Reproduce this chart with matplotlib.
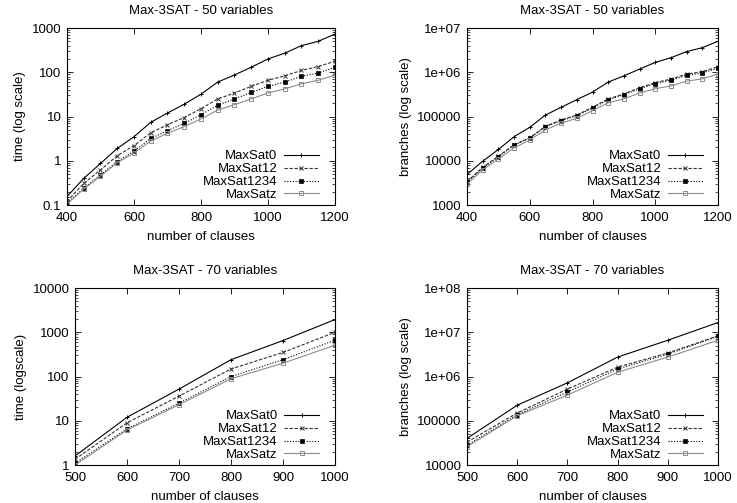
import matplotlib
matplotlib.use("Agg")
import matplotlib.pyplot as plt
from matplotlib.ticker import FixedLocator, LogLocator, NullFormatter

plt.rcParams['font.family'] = ['Liberation Sans', 'DejaVu Sans']
plt.rcParams['font.size'] = 9.5

# 50 variables
clauses50 = [400, 450, 500, 550, 600, 650, 700, 750, 800, 850, 900, 950, 1000, 1050, 1100, 1150, 1200]
time50_maxsat0 = [0.155, 0.4, 0.87, 1.9, 3.5, 7.4, 12, 19, 32, 60, 87, 130, 200, 270, 400, 500, 730]
time50_maxsat12 = [0.12, 0.31, 0.62, 1.3, 2.2, 4.3, 6.5, 9.5, 15, 25, 34, 48, 66, 83, 110, 135, 178]
time50_maxsat1234 = [0.11, 0.24, 0.48, 0.96, 1.65, 3.2, 4.8, 7, 11, 18, 25, 35, 48, 60, 81, 96, 130]
time50_maxsatz = [0.105, 0.23, 0.45, 0.9, 1.5, 2.8, 4.2, 5.9, 8.8, 14, 18.5, 25, 34, 42, 55, 66, 86]

br50_maxsat0 = [4900, 9800, 18000, 35000, 57000, 108000, 162000, 240000, 357000, 600000, 830000,
                1.18e6, 1.67e6, 2.13e6, 2.93e6, 3.6e6, 5e6]
br50_maxsat12 = [3400, 7100, 12700, 23000, 33000, 60000, 83000, 108000, 162000, 250000, 325000,
                 445000, 585000, 700000, 910000, 1.03e6, 1.33e6]
br50_maxsat1234 = [3250, 6900, 12300, 22500, 33000, 59000, 81000, 105000, 155000, 240000, 310000,
                   425000, 555000, 660000, 855000, 970000, 1.23e6]
br50_maxsatz = [2950, 6300, 11000, 19600, 29500, 50000, 71000, 91000, 136000, 204000, 250000,
                340000, 425000, 490000, 630000, 710000, 910000]

# 70 variables
clauses70 = [500, 600, 700, 800, 900, 1000]
time70_maxsat0 = [1.6, 12, 52, 240, 650, 1940]
time70_maxsat12 = [1.35, 9, 36, 148, 350, 1000]
time70_maxsat1234 = [1.1, 6.6, 25, 100, 240, 660]
time70_maxsatz = [1.0, 6.2, 23, 89, 200, 510]

br70_maxsat0 = [40000, 225000, 720000, 2.75e6, 6.6e6, 1.66e7]
br70_maxsat12 = [33000, 150000, 520000, 1.63e6, 3.4e6, 8.3e6]
br70_maxsat1234 = [28000, 137000, 445000, 1.48e6, 3.2e6, 8.1e6]
br70_maxsatz = [26000, 130000, 380000, 1.25e6, 2.75e6, 6.6e6]

names = ['MaxSat0', 'MaxSat12', 'MaxSat1234', 'MaxSatz']
styles = [
    dict(color='black', ls='-', marker='+', ms=3.5, mew=0.7),
    dict(color='#333333', ls=(0, (3, 1.5)), marker='x', ms=2.8, mew=0.7),
    dict(color='black', ls=(0, (1, 1.5)), marker='s', ms=2.3, mew=0.5),
    dict(color='#8c8c8c', ls='-', marker='s', ms=3.2, mfc='none', mew=0.7),
]

fig = plt.figure(figsize=(7.37, 5.03), dpi=100)
rects = [
    [0.0909, 0.5924, 0.4545 - 0.0909, 0.9443 - 0.5924],
    [0.6337, 0.5924, 0.9742 - 0.6337, 0.9443 - 0.5924],
    [0.1018, 0.0755, 0.4545 - 0.1018, 0.4274 - 0.0755],
    [0.6337, 0.0755, 0.9742 - 0.6337, 0.4274 - 0.0755],
]

panels = [
    (clauses50, [time50_maxsat0, time50_maxsat12, time50_maxsat1234, time50_maxsatz],
     'time (log scale)', (0.1, 1000), [0.1, 1, 10, 100, 1000], ['0.1', '1', '10', '100', '1000'],
     (400, 1200), [400, 600, 800, 1000, 1200], 'Max-3SAT - 50 variables'),
    (clauses50, [br50_maxsat0, br50_maxsat12, br50_maxsat1234, br50_maxsatz],
     'branches (log scale)', (1000, 1e7), [1e3, 1e4, 1e5, 1e6, 1e7],
     ['1000', '10000', '100000', '1e+06', '1e+07'],
     (400, 1200), [400, 600, 800, 1000, 1200], 'Max-3SAT - 50 variables'),
    (clauses70, [time70_maxsat0, time70_maxsat12, time70_maxsat1234, time70_maxsatz],
     'time (logscale)', (1, 10000), [1, 10, 100, 1000, 10000], ['1', '10', '100', '1000', '10000'],
     (500, 1000), [500, 600, 700, 800, 900, 1000], 'Max-3SAT - 70 variables'),
    (clauses70, [br70_maxsat0, br70_maxsat12, br70_maxsat1234, br70_maxsatz],
     'branches (log scale)', (1e4, 1e8), [1e4, 1e5, 1e6, 1e7, 1e8],
     ['10000', '100000', '1e+06', '1e+07', '1e+08'],
     (500, 1000), [500, 600, 700, 800, 900, 1000], 'Max-3SAT - 70 variables'),
]

for rect, (xs, series, ylabel, ylim, yt, ytl, xlim, xt, title) in zip(rects, panels):
    ax = fig.add_axes(rect)
    for ys, name, st in zip(series, names, styles):
        ax.plot(xs, ys, label=name, lw=0.8, **st)
    ax.set_yscale('log')
    ax.set_ylim(*ylim)
    ax.set_xlim(*xlim)
    ax.yaxis.set_major_locator(FixedLocator(yt))
    ax.set_yticklabels(ytl)
    ax.yaxis.set_minor_locator(LogLocator(base=10, subs=range(2, 10)))
    ax.yaxis.set_minor_formatter(NullFormatter())
    ax.set_xticks(xt)
    ax.set_xticklabels([str(v) for v in xt])
    ax.tick_params(which='both', direction='in', top=True, right=True, labelsize=9.5)
    ax.tick_params(which='major', length=4, width=0.6)
    ax.tick_params(which='minor', length=2, width=0.5)
    ax.tick_params(axis='x', pad=5)
    ax.tick_params(axis='y', pad=4)
    for sp in ax.spines.values():
        sp.set_linewidth(0.8)
    ax.set_xlabel('number of clauses', fontsize=9.5, labelpad=5)
    ax.set_ylabel(ylabel, fontsize=9.5)
    ax.set_title(title, fontsize=9.5, pad=10)
    ax.legend(loc='lower right', bbox_to_anchor=(0.955, 0.0), frameon=False,
              markerfirst=False, fontsize=9.5, handlelength=2.65, handletextpad=0.5,
              labelspacing=0.05, borderaxespad=0.0, borderpad=0.3)

fig.savefig('out.png', dpi=100)
